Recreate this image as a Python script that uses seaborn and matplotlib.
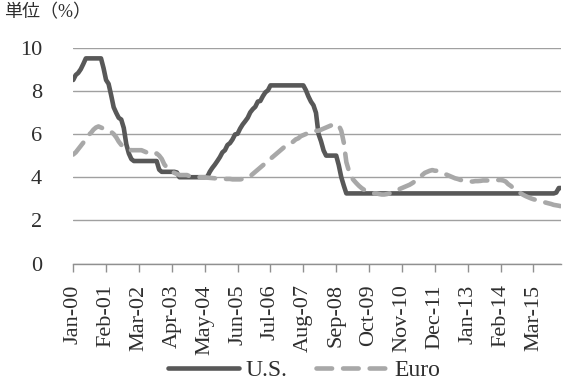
import numpy as np
import pandas as pd
import seaborn as sns
import matplotlib.pyplot as plt

# monthly values, Jan-2000 .. Feb-2016
us_rate = ([8.50, 8.73, 8.83, 9.00, 9.24, 9.50, 9.50, 9.50, 9.50, 9.50, 9.50, 9.50] +
           [9.05, 8.50, 8.32, 7.80, 7.24, 6.98, 6.75, 6.67, 6.28, 5.53, 5.10, 4.84] +
           [4.75] * 10 + [4.35, 4.25] +
           [4.25] * 5 + [4.22] + [4.00] * 6 +
           [4.00] * 5 + [4.01, 4.25, 4.43, 4.58, 4.75, 4.93, 5.15] +
           [5.25, 5.49, 5.58, 5.75, 5.98, 6.01, 6.25, 6.44, 6.59, 6.75, 7.00, 7.15] +
           [7.26, 7.50, 7.53, 7.75, 7.93, 8.02] + [8.25] * 6 +
           [8.25] * 8 + [8.03, 7.74, 7.50, 7.33] +
           [6.98, 6.00, 5.66, 5.24, 5.00, 5.00, 5.00, 5.00, 5.00, 4.56, 4.00, 3.61] +
           [3.25] * 72 +
           [3.25] * 11 + [3.29] +
           [3.50, 3.50])

euro_rate = ([5.05, 5.15, 5.30, 5.45, 5.60, 5.80, 5.95, 6.05, 6.20, 6.30, 6.35, 6.30] +
             [6.25, 6.20, 6.15, 6.10, 6.00, 5.85, 5.65, 5.50, 5.40, 5.35, 5.30, 5.25] +
             [5.25, 5.25, 5.25, 5.25, 5.20, 5.15, 5.10, 5.05, 5.05, 5.10, 5.00, 4.85] +
             [4.60, 4.45, 4.35, 4.25, 4.20, 4.15, 4.10, 4.10, 4.10, 4.10, 4.05, 4.05] +
             [4.05, 4.05, 4.00, 4.00, 4.00, 3.98, 3.97, 3.96, 3.95, 3.94, 3.93, 3.92] +
             [3.92, 3.92, 3.92, 3.90, 3.90, 3.90, 3.90, 3.92, 3.95, 4.00, 4.05, 4.15] +
             [4.25, 4.35, 4.45, 4.55, 4.65, 4.75, 4.85, 4.95, 5.05, 5.15, 5.25, 5.35] +
             [5.45, 5.50, 5.55, 5.65, 5.75, 5.80, 5.90, 5.95, 6.00, 6.05, 6.10, 6.15] +
             [6.15, 6.15, 6.20, 6.25, 6.30, 6.35, 6.40, 6.45, 6.45, 6.40, 6.15, 5.60] +
             [4.70, 4.30, 4.00, 3.85, 3.72, 3.60, 3.50, 3.42, 3.38, 3.32, 3.28, 3.25] +
             [3.25, 3.22, 3.20, 3.20, 3.22, 3.25, 3.30, 3.35, 3.40, 3.45, 3.50, 3.55] +
             [3.60, 3.65, 3.72, 3.80, 3.90, 4.00, 4.10, 4.20, 4.25, 4.30, 4.33, 4.30] +
             [4.30, 4.25, 4.20, 4.15, 4.10, 4.05, 4.00, 3.95, 3.92, 3.88, 3.85, 3.82] +
             [3.80, 3.80, 3.80, 3.82, 3.82, 3.83, 3.85, 3.85, 3.85, 3.85, 3.85, 3.85] +
             [3.87, 3.87, 3.85, 3.80, 3.68, 3.60, 3.50, 3.42, 3.33, 3.25, 3.18, 3.12] +
             [3.07, 3.02, 2.98, 2.95, 2.92, 2.88, 2.85, 2.82, 2.79, 2.76, 2.72, 2.70] +
             [2.68, 2.65])

dates = pd.date_range('2000-01-01', periods=len(us_rate), freq='MS')
series_names = ['U.S.', 'Euro']

df = pd.DataFrame({
    'month': np.concatenate([np.arange(len(us_rate)), np.arange(len(euro_rate))]),
    'rate': us_rate + euro_rate,
    'series': [series_names[0]] * len(us_rate) + [series_names[1]] * len(euro_rate),
})

sns.set_style('white')
plt.rcParams['font.family'] = ['Liberation Serif', 'Noto Sans CJK JP']
plt.rcParams['lines.dash_capstyle'] = 'round'
plt.rcParams['lines.solid_capstyle'] = 'round'

fig = plt.figure(figsize=(5.63, 3.9), dpi=100)
ax = fig.add_axes([0.13, 0.324, 0.867, 0.554])

sns.lineplot(data=df, x='month', y='rate', hue='series', style='series',
             hue_order=series_names, style_order=series_names,
             palette={'U.S.': '#585858', 'Euro': '#a8a8a8'},
             dashes={'U.S.': '', 'Euro': (3.4, 2.4)},
             linewidth=3.3, ax=ax)

ax.set_xlim(0, len(us_rate) - 1)
ax.set_ylim(0, 10)
ax.set_yticks(range(0, 11, 2))
ax.yaxis.grid(True, color='#a0a0a0', linewidth=1)
ax.set_axisbelow(True)
for s in ['left', 'right', 'top']:
    ax.spines[s].set_visible(False)
ax.spines['bottom'].set_color('#909090')
ax.spines['bottom'].set_linewidth(1)

tick_pos = list(range(0, len(us_rate), 13))
ax.set_xticks(tick_pos)
ax.set_xticklabels([dates[i].strftime('%b-%y') for i in tick_pos], rotation=90)
ax.tick_params(axis='x', bottom=True, length=6, width=1, color='#909090',
               labelsize=16, labelcolor='#2e2e2e', pad=9)
ax.tick_params(axis='y', left=False, labelsize=16, labelcolor='#2e2e2e', pad=19)
ax.set_xlabel('')
ax.set_ylabel('')

fig.text(0.007, 0.99, '単位（%）', ha='left', va='top', fontsize=13, color='#2e2e2e')

handles, labels = ax.get_legend_handles_labels()
ax.get_legend().remove()
fig.legend(handles, labels, loc='center', bbox_to_anchor=(0.54, 0.05), ncol=2,
           frameon=False, fontsize=17, handlelength=3, columnspacing=1.2,
           handletextpad=0.3, labelcolor='#2e2e2e')

fig.savefig('out.png', dpi=100)
